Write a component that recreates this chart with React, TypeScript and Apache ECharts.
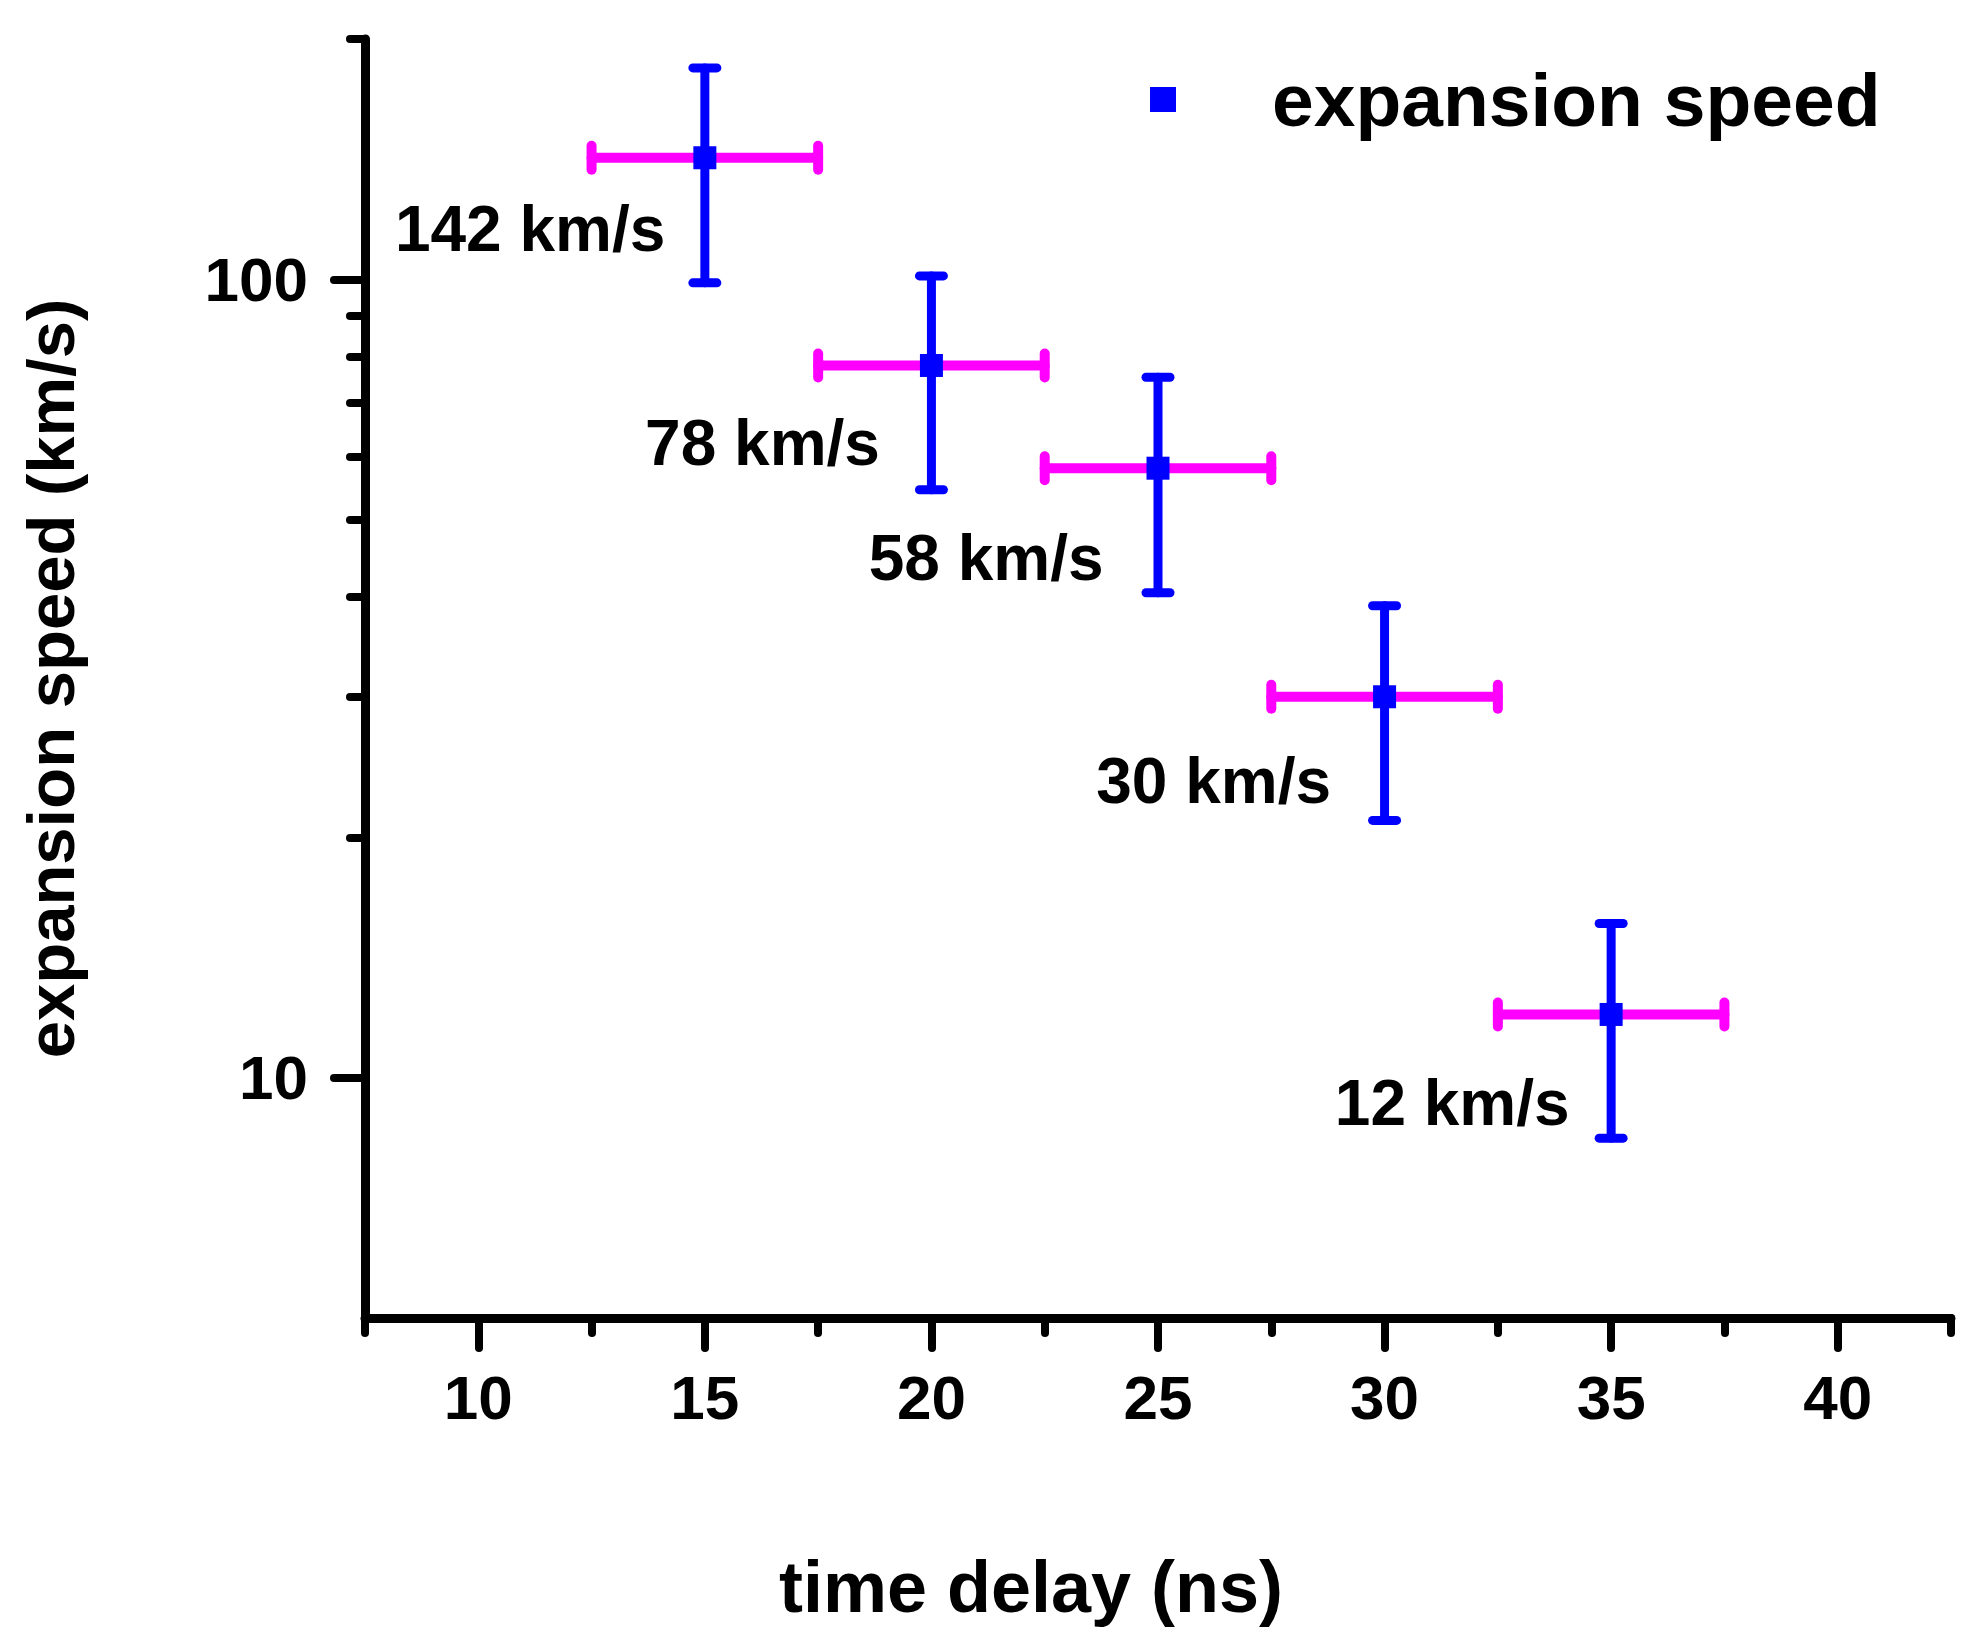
import React, { useEffect, useRef } from "react";
import * as echarts from "echarts";

// ---- data ----
const TIME_DELAY = [15, 20, 25, 30, 35];
const SPEED = [142, 78, 58, 30, 12];
const SPEED_LOW = [99, 54.5, 40.5, 21, 8.4];
const SPEED_HIGH = [184, 101, 75.4, 39, 15.6];
const TIME_LOW = [12.5, 17.5, 22.5, 27.5, 32.5];
const TIME_HIGH = [17.5, 22.5, 27.5, 32.5, 37.5];
const SPEED_LABELS = ["142 km/s", "78 km/s", "58 km/s", "30 km/s", "12 km/s"];

const X_MAJOR_TICKS = [10, 15, 20, 25, 30, 35, 40];
const X_MINOR_TICKS = [7.5, 12.5, 17.5, 22.5, 27.5, 32.5, 37.5, 42.5];
const Y_MAJOR_TICKS = [10, 100];
const Y_MINOR_TICKS = [20, 30, 40, 50, 60, 70, 80, 90, 200];

// ---- layout (not data) ----
const LABEL_OFFSETS = [
  [-28, 71],
  [-40, 78],
  [-43, 90],
  [-42, 84],
  [-30, 89],
];

const FONT = "'Liberation Sans', Arial, Helvetica, sans-serif";

export default function App() {
  const ref = useRef<HTMLDivElement>(null);

  useEffect(() => {
    document.body.style.margin = "0";
    if (!ref.current) return;
    const chart = echarts.init(ref.current, null, { renderer: "svg" });

    const tickStyle = { color: "#000", width: 8, cap: "round" };

    const option: any = {
      animation: false,
      backgroundColor: "#fff",
      grid: { left: 365, right: 28, top: 39, bottom: 333, containLabel: false },
      legend: {
        data: [{ name: "expansion speed", icon: "rect" }],
        left: 1150,
        top: 62,
        padding: 0,
        itemWidth: 26,
        itemHeight: 25,
        selectedMode: false,
        textStyle: {
          fontSize: 75,
          fontWeight: "bold",
          fontFamily: FONT,
          color: "#000",
          padding: [0, 0, 0, 91],
        },
      },
      xAxis: [
        {
          type: "value",
          min: 7.5,
          max: 42.5,
          position: "bottom",
          name: "time delay (ns)",
          nameLocation: "middle",
          nameGap: 233,
          nameTextStyle: {
            fontSize: 72,
            fontWeight: "bold",
            fontFamily: FONT,
            color: "#000",
            padding: [0, 254, 0, 0],
          },
          axisLine: { show: true, onZero: false, lineStyle: { color: "#000", width: 9, cap: "round" } },
          axisTick: { show: true, inside: false, length: 30, customValues: X_MAJOR_TICKS, lineStyle: tickStyle },
          axisLabel: {
            show: true,
            customValues: X_MAJOR_TICKS,
            margin: 48,
            fontSize: 62,
            fontWeight: "bold",
            fontFamily: FONT,
            color: "#000",
          },
          splitLine: { show: false },
        },
        {
          type: "value",
          min: 7.5,
          max: 42.5,
          position: "bottom",
          axisLine: { show: false, onZero: false },
          axisTick: { show: true, inside: false, length: 15, customValues: X_MINOR_TICKS, lineStyle: tickStyle },
          axisLabel: { show: false },
          splitLine: { show: false },
        },
      ],
      yAxis: [
        {
          type: "log",
          logBase: 10,
          min: 5,
          max: 200,
          position: "left",
          name: "expansion speed (km/s)",
          nameLocation: "middle",
          nameGap: 281,
          nameTextStyle: {
            fontSize: 67,
            fontWeight: "bold",
            fontFamily: FONT,
            color: "#000",
          },
          axisLine: { show: true, onZero: false, lineStyle: { color: "#000", width: 9, cap: "round" } },
          axisTick: { show: true, inside: false, length: 31, customValues: Y_MAJOR_TICKS, lineStyle: tickStyle },
          axisLabel: {
            show: true,
            customValues: Y_MAJOR_TICKS,
            margin: 57,
            fontSize: 62,
            fontWeight: "bold",
            fontFamily: FONT,
            color: "#000",
          },
          splitLine: { show: false },
        },
        {
          type: "log",
          logBase: 10,
          min: 5,
          max: 200,
          position: "left",
          axisLine: { show: false, onZero: false },
          axisTick: { show: true, inside: false, length: 15, customValues: Y_MINOR_TICKS, lineStyle: tickStyle },
          axisLabel: { show: false },
          splitLine: { show: false },
        },
      ],
      series: [
        {
          type: "custom",
          name: "error bars",
          xAxisIndex: 0,
          yAxisIndex: 0,
          encode: { x: 0, y: 1 },
          z: 2,
          silent: true,
          data: TIME_DELAY.map((t, i) => [t, SPEED[i], SPEED_LOW[i], SPEED_HIGH[i], TIME_LOW[i], TIME_HIGH[i]]),
          renderItem: (params: any, api: any) => {
            const x = api.value(0);
            const y = api.value(1);
            const c = api.coord([x, y]);
            const lo = api.coord([x, api.value(2)]);
            const hi = api.coord([x, api.value(3)]);
            const xl = api.coord([api.value(4), y]);
            const xh = api.coord([api.value(5), y]);
            const half = 12;
            const mag = { stroke: "#FF00FF", lineWidth: 10, lineCap: "round", fill: null };
            const blue = { stroke: "#0000FF", lineWidth: 9, lineCap: "round", fill: null };
            return {
              type: "group",
              children: [
                { type: "line", shape: { x1: xl[0], y1: c[1], x2: xh[0], y2: c[1] }, style: mag },
                { type: "line", shape: { x1: xl[0], y1: c[1] - half, x2: xl[0], y2: c[1] + half }, style: mag },
                { type: "line", shape: { x1: xh[0], y1: c[1] - half, x2: xh[0], y2: c[1] + half }, style: mag },
                { type: "line", shape: { x1: c[0], y1: hi[1], x2: c[0], y2: lo[1] }, style: blue },
                { type: "line", shape: { x1: c[0] - half, y1: hi[1], x2: c[0] + half, y2: hi[1] }, style: blue },
                { type: "line", shape: { x1: c[0] - half, y1: lo[1], x2: c[0] + half, y2: lo[1] }, style: blue },
              ],
            };
          },
        },
        {
          type: "scatter",
          name: "expansion speed",
          xAxisIndex: 0,
          yAxisIndex: 0,
          z: 3,
          symbol: "rect",
          symbolSize: 23,
          itemStyle: { color: "#0000FF", opacity: 1 },
          data: TIME_DELAY.map((t, i) => ({
            value: [t, SPEED[i]],
            label: {
              show: true,
              position: "left",
              distance: 0,
              offset: LABEL_OFFSETS[i],
              formatter: SPEED_LABELS[i],
              fontSize: 64,
              fontWeight: "bold",
              fontFamily: FONT,
              color: "#000",
              opacity: 1,
            },
          })),
        },
      ],
    };

    chart.setOption(option);
    return () => chart.dispose();
  }, []);

  return <div ref={ref} style={{ width: 1979, height: 1651 }} />;
}
